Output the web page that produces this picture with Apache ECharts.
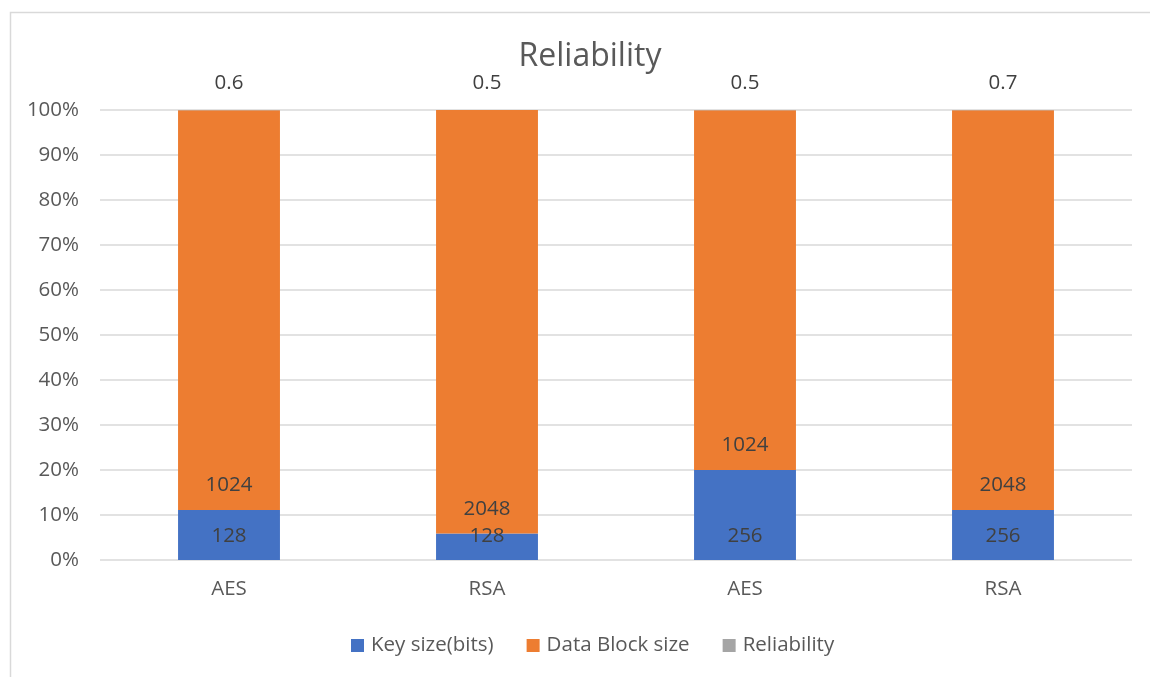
<!DOCTYPE html>
<html>
<head>
<meta charset="utf-8">
<script src="https://cdn.jsdelivr.net/npm/echarts@6/dist/echarts.min.js"></script>
<style>
  html, body { margin: 0; padding: 0; background: #ffffff; }
  #chart { width: 1150px; height: 677px; }
</style>
</head>
<body>
<div id="chart"></div>
<script>
// Encryption configurations and their measured values
const categories = ['AES', 'RSA', 'AES', 'RSA'];
const keySize = [128, 128, 256, 256];
const dataBlockSize = [1024, 2048, 1024, 2048];
const reliability = [0.6, 0.5, 0.5, 0.7];
const yTicks = [0, 10, 20, 30, 40, 50, 60, 70, 80, 90, 100];

// 100% stacking: each series becomes its share of the category total
const totals = categories.map((_, i) => keySize[i] + dataBlockSize[i] + reliability[i]);
const share = arr => arr.map((v, i) => v / totals[i] * 100);

const font = '"Open Sans", "Noto Sans", sans-serif';
const labelStyle = { fontFamily: font, fontSize: 20.5, color: '#404040' };

function series(name, raw, color, label) {
  return {
    name, type: 'bar', stack: 'all', barWidth: '39.5%',
    itemStyle: { color },
    data: share(raw).map((v, i) => ({ value: v, raw: raw[i] })),
    label: Object.assign({
      show: true,
      formatter: p => String(p.data.raw)
    }, labelStyle, label)
  };
}

const chart = echarts.init(document.getElementById('chart'), null, { renderer: 'canvas' });
chart.setOption({
  animation: false,
  backgroundColor: '#ffffff',
  graphic: [{
    type: 'rect', left: 8, top: 10, silent: true,
    shape: { width: 1200, height: 700 },
    style: { fill: 'none', stroke: '#d9d9d9', lineWidth: 1.5 }
  }],
  title: {
    text: 'Reliability', left: 585, top: 36, textAlign: 'center',
    textStyle: { fontFamily: font, fontSize: 32, fontWeight: 'normal', color: '#595959' }
  },
  legend: {
    bottom: 16, left: 346, itemWidth: 13, itemHeight: 13, itemGap: 33,
    icon: 'rect',
    textStyle: { fontFamily: font, fontSize: 20.5, color: '#595959', padding: [0, 0, 0, 2] },
    data: ['Key size(bits)', 'Data Block size', 'Reliability']
  },
  grid: { left: 100, right: 18, top: 110, bottom: 117 },
  xAxis: {
    type: 'category', data: categories,
    axisLine: { show: false }, axisTick: { show: false },
    axisLabel: { fontFamily: font, fontSize: 20.5, color: '#595959', margin: 19 }
  },
  yAxis: {
    type: 'value', min: yTicks[0], max: yTicks[yTicks.length - 1], interval: 10,
    axisLine: { show: false }, axisTick: { show: false },
    splitLine: { lineStyle: { color: '#d9d9d9', width: 1.5 } },
    axisLabel: { fontFamily: font, fontSize: 20.5, color: '#595959', margin: 21, formatter: v => v + '%' }
  },
  series: [
    series('Key size(bits)', keySize, '#4472C4', { position: 'insideBottom', distance: 13 }),
    series('Data Block size', dataBlockSize, '#ED7D31', { position: 'insideBottom', distance: 14 }),
    series('Reliability', reliability, '#A5A5A5', { position: 'top', distance: 16 })
  ]
});
</script>
</body>
</html>
